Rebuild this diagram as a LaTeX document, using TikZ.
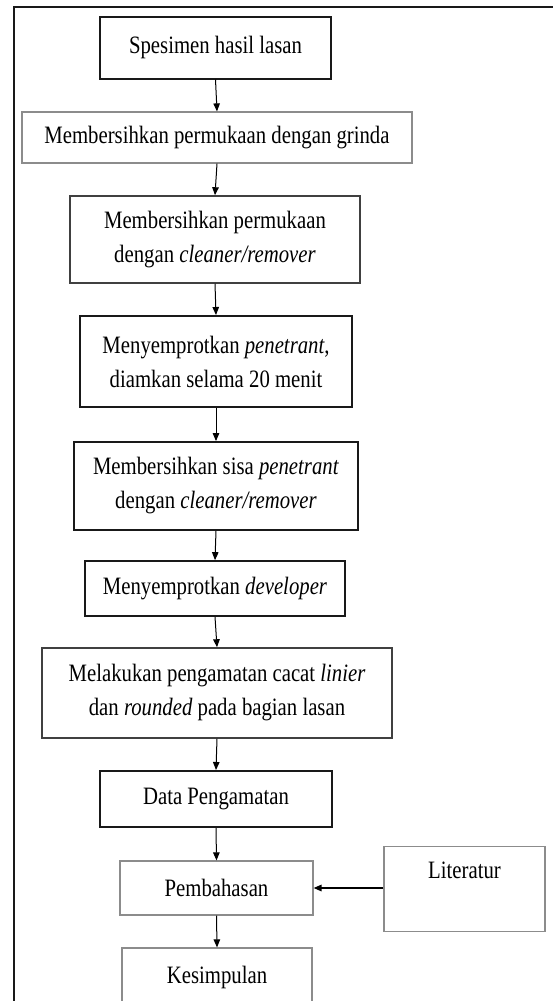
\documentclass[tikz,border=0pt]{standalone}
\usepackage{fontspec}
\setmainfont[FakeStretch=0.83]{Liberation Serif}
\usetikzlibrary{arrows.meta}
\tikzset{
  base/.style={rectangle, draw, inner sep=0pt, align=center, font=\fontsize{25}{34}\selectfont, text=black},
  heavy/.style={base, line width=2pt, draw=black!90},
  medium/.style={base, line width=1.5pt, draw=black!75},
  light/.style={base, line width=1.2pt, draw=black!45},
  arr/.style={line width=1pt, draw=black, -{Triangle[length=8pt,width=6.5pt]}},
  frame/.style={line width=2.4pt, draw=black!90}
}
\begin{document}
\begin{tikzpicture}[x=1pt,y=-1pt]
\useasboundingbox (0,0) rectangle (553,1001);
\clip (0,0) rectangle (553,1001);
\fill[white] (0,0) rectangle (553,1001);
\coordinate (ftr) at (553,7);
\coordinate (ftl) at (14,7);
\coordinate (fbl) at (14,1001);
\draw[frame] (ftr) -- (ftl) -- (fbl);

\node[heavy, minimum width=231pt, minimum height=62pt] (b1) at (215.5,47.5) {Spesimen hasil lasan};
\node[light, minimum width=390pt, minimum height=51pt] (b2) at (217,137.5) {Membersihkan permukaan dengan grinda};
\node[medium, minimum width=290pt, minimum height=87pt] (b3) at (215,239.5) {Membersihkan permukaan\\dengan \textit{cleaner/remover}};
\node[heavy, minimum width=272pt, minimum height=91pt] (b4) at (216,361.5) {Menyemprotkan \textit{penetrant},\\diamkan selama 20 menit};
\node[heavy, line width=1.8pt, minimum width=284pt, minimum height=88pt] (b5) at (216,486) {Membersihkan sisa \textit{penetrant}\\dengan \textit{cleaner/remover}};
\node[heavy, line width=1.7pt, minimum width=260pt, minimum height=55pt] (b6) at (215,588.5) {Menyemprotkan \textit{developer}};
\node[medium, minimum width=350pt, minimum height=90pt] (b7) at (217,693) {Melakukan pengamatan cacat \textit{linier}\\dan \textit{rounded} pada bagian lasan};
\node[heavy, minimum width=232pt, minimum height=56pt] (b8) at (216,799) {Data Pengamatan};
\node[light, minimum width=193pt, minimum height=54pt] (b9) at (216.5,888) {Pembahasan};
\node[light, minimum width=190pt, minimum height=58pt] (b10) at (217,977) {Kesimpulan};
\node[light, anchor=north, minimum width=161pt, text height=18pt, text depth=39pt, inner ysep=14pt] (lit) at (464.5,846) {Literatur};

\draw[arr] (b1.south) -- (b2.north);
\draw[arr] (b2.south) -- (b3.north);
\draw[arr] (b3.south) -- (b4.north);
\draw[arr] (b4.south) -- (b5.north);
\draw[arr] (b5.south) -- (b6.north);
\draw[arr] (b6.south) -- (b7.north);
\draw[arr] (b7.south) -- (b8.north);
\draw[arr] (b8.south) -- (b9.north);
\draw[arr] (b9.south) -- (b10.north);
\draw[arr, line width=1.5pt] (lit.west |- b9.east) -- (b9.east);
\end{tikzpicture}
\end{document}
